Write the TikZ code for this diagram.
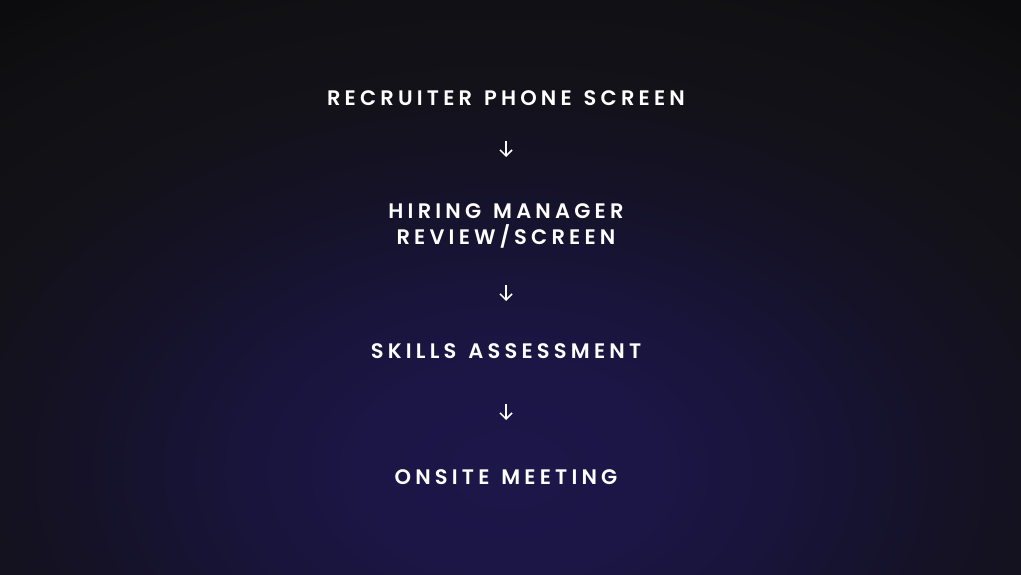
\documentclass[tikz,border=0pt]{standalone}
\usepackage{fontspec}
\usetikzlibrary{arrows.meta}
\newfontfamily\stepfont{Poppins SemiBold}[LetterSpace=20,WordSpace=1.3]
\definecolor{bgA}{HTML}{1C1749}
\definecolor{bgB}{HTML}{1B1646}
\definecolor{bgC}{HTML}{18143A}
\definecolor{bgD}{HTML}{151228}
\definecolor{bgE}{HTML}{13121A}
\definecolor{bgF}{HTML}{111014}
\definecolor{bgG}{HTML}{0C0C0E}
\definecolor{bgH}{HTML}{0A0A0A}
% concentric ellipses: #1 outer t, #2 inner t, #3 outer colour, #4 inner colour, #5 steps
\newcommand\bgring[5]{%
  \foreach \j in {0,...,#5}{%
    \pgfmathsetmacro\bgt{#1+(#2-#1)*\j/#5}%
    \pgfmathsetmacro\bgp{100*\j/#5}%
    \fill[#4!\bgp!#3] (510,470) ellipse [x radius=\bgt*950, y radius=\bgt*640];
  }}
\begin{document}
\begin{tikzpicture}[x=1pt,y=-1pt,
  lbl/.style={text=white, font=\stepfont\fontsize{21}{26}\selectfont, align=center, inner sep=0pt},
  flow/.style={draw=white, line width=1.5pt, -{Straight Barb[length=6pt,width=12pt]}}]
\useasboundingbox (0,0) rectangle (1021,575);
\begin{scope}
\clip (0,0) rectangle (1021,575);
\fill[bgH] (0,0) rectangle (1021,575);
\bgring{1.2}{1.0}{bgH}{bgH}{2}
\bgring{1.0}{0.9}{bgH}{bgG}{8}
\bgring{0.9}{0.75}{bgG}{bgF}{10}
\bgring{0.75}{0.6}{bgF}{bgE}{10}
\bgring{0.6}{0.45}{bgE}{bgD}{12}
\bgring{0.45}{0.3}{bgD}{bgC}{14}
\bgring{0.3}{0.15}{bgC}{bgB}{10}
\bgring{0.15}{0.02}{bgB}{bgA}{6}
\end{scope}
\node[lbl] (rec) at (506,98) {RECRUITER PHONE SCREEN};
\node[lbl] (hir) at (506,226) {HIRING MANAGER\\REVIEW/SCREEN};
\node[lbl] (skl) at (506,351) {SKILLS ASSESSMENT};
\node[lbl] (ons) at (506,477) {ONSITE MEETING};
\coordinate (a1s) at (506,141); \coordinate (a1e) at (506,157);
\coordinate (a2s) at (506,285); \coordinate (a2e) at (506,301);
\coordinate (a3s) at (506,404); \coordinate (a3e) at (506,420);
\draw[flow] (a1s) -- (a1e);
\draw[flow] (a2s) -- (a2e);
\draw[flow] (a3s) -- (a3e);
\end{tikzpicture}
\end{document}
